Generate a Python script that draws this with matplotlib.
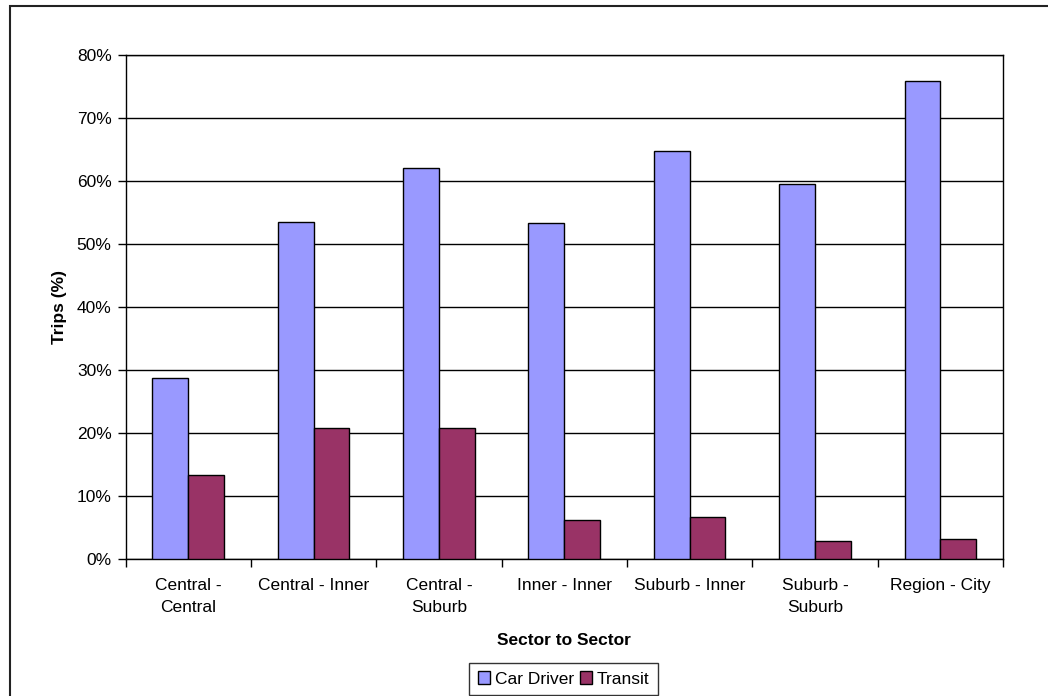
import numpy as np
import matplotlib
matplotlib.use('Agg')
import matplotlib.pyplot as plt
from matplotlib.patches import Rectangle
from matplotlib.ticker import FuncFormatter

plt.rcParams['font.family'] = ['Liberation Sans', 'DejaVu Sans']

categories = ["Central -\nCentral", "Central - Inner", "Central -\nSuburb", "Inner - Inner",
              "Suburb - Inner", "Suburb -\nSuburb", "Region - City"]
car_driver = [28.8, 53.5, 62.1, 53.3, 64.8, 59.5, 75.9]
transit = [13.3, 20.8, 20.8, 6.2, 6.7, 2.9, 3.2]

W, H = 1048, 696
fs = 12.5
fig = plt.figure(figsize=(W / 100, H / 100), dpi=100)
fig.patch.set_facecolor('white')

# chart border (runs off the right/bottom edge)
fig.patches.append(Rectangle((10 / W, -0.02), 1.0, (H - 6) / H + 0.02,
                             transform=fig.transFigure, fill=False,
                             edgecolor='#222222', linewidth=1.5))

ax = fig.add_axes([125.5 / W, (H - 559) / H, (1003 - 125.5) / W, (559 - 55) / H])

x = np.arange(len(categories))
w = 1 / 3.5
ax.bar(x - w / 2, car_driver, width=w, color='#9999FF', edgecolor='black',
       linewidth=1, label='Car Driver', zorder=3)
ax.bar(x + w / 2, transit, width=w, color='#993366', edgecolor='black',
       linewidth=1, label='Transit', zorder=3)

ax.set_ylim(0, 80)
ax.set_xlim(-0.5, len(categories) - 0.5)
ax.set_yticks(np.arange(0, 81, 10))
ax.yaxis.set_major_formatter(FuncFormatter(lambda v, p: f"{v:.0f}%"))
ax.yaxis.grid(True, color='black', linewidth=1, zorder=0)

ax.set_xticks(np.arange(-0.5, len(categories), 1))
ax.set_xticklabels([])
ax.set_xticks(x, minor=True)
ax.set_xticklabels(categories, minor=True, linespacing=1.55)
ax.tick_params(axis='x', which='major', length=6, direction='out', width=1)
ax.tick_params(axis='x', which='minor', length=0, pad=14, labelsize=fs)
ax.tick_params(axis='y', length=6, direction='out', width=1, labelsize=fs, pad=4)

for s in ax.spines.values():
    s.set_color('black')
    s.set_linewidth(1)

ax.set_ylabel('Trips (%)', fontsize=fs, fontweight='bold', labelpad=7)
ax.set_xlabel('Sector to Sector', fontsize=fs, fontweight='bold', labelpad=13)

leg = fig.legend(loc='center', bbox_to_anchor=(563.5 / W, 1 - 679 / H), ncol=2,
                 fontsize=fs, frameon=True, fancybox=False, edgecolor='black',
                 handlelength=0.7, handleheight=0.7, handletextpad=0.25,
                 columnspacing=0.35, borderpad=0.5, borderaxespad=0)
leg.get_frame().set_linewidth(1)

fig.savefig('out.png', dpi=100, facecolor='white')
